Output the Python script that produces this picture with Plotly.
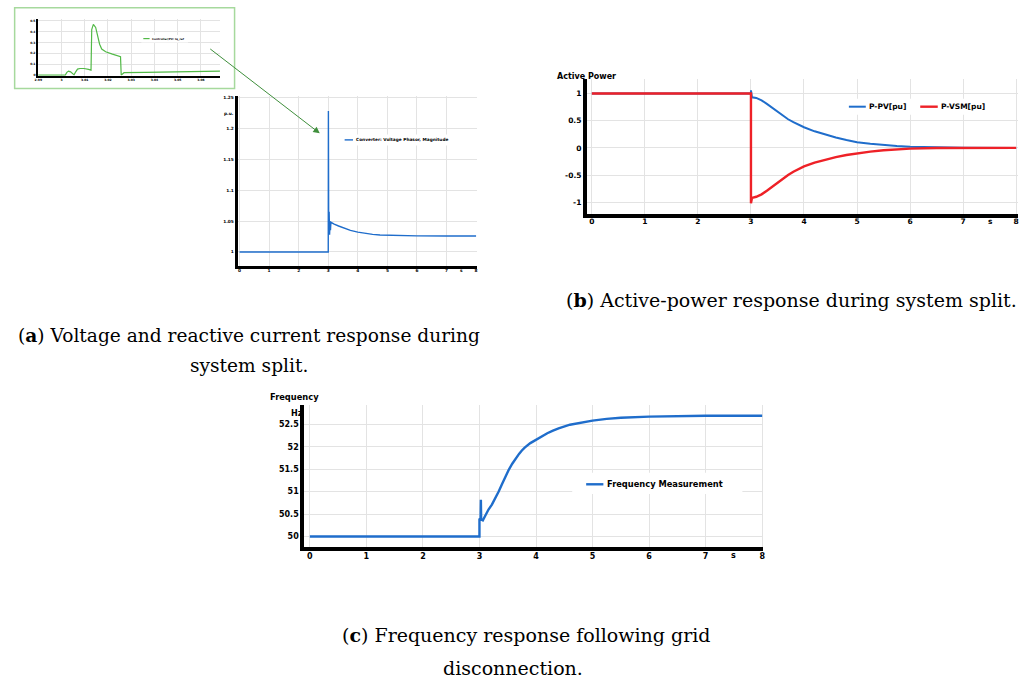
import plotly.graph_objects as go

W, H = 1032, 689


def px(x):
    return x / W


def py(y):
    return 1 - y / H


# ---------------- data ----------------
# inset: reactive current reference of the PV controller (zoom around t = 3 s)
t_iq = [2.99, 3.0, 3.0016, 3.0023, 3.003, 3.0039, 3.0047, 3.0054, 3.0061, 3.0069,
        3.0079, 3.0097, 3.0116, 3.0127, 3.013, 3.0137, 3.0147, 3.0154, 3.0164,
        3.0173, 3.019, 3.0219, 3.0254, 3.0257, 3.0269, 3.0361, 3.0504, 3.0683]
iq_ref = [0.0, 0.0, 0.0, 0.025, 0.037, 0.03, 0.012, 0.002, 0.03, 0.055,
          0.061, 0.061, 0.052, 0.046, 0.42, 0.468, 0.44, 0.377, 0.285,
          0.24, 0.215, 0.193, 0.169, 0.0, 0.022, 0.025, 0.03, 0.036]

# (a) converter voltage magnitude [p.u.]
t_v = [0, 3.0, 3.005, 3.015, 3.03, 3.045, 3.06, 3.075, 3.09, 3.12, 3.2, 3.35,
       3.5, 3.75, 4.0, 4.25, 4.5, 4.75, 5.0, 5.5, 6.0, 7.0, 8.0]
v_mag = [1.0, 1.0, 1.228, 1.03, 1.065, 1.028, 1.05, 1.035, 1.048, 1.047, 1.045, 1.042,
         1.039, 1.035, 1.032, 1.030, 1.0285, 1.0275, 1.027, 1.0263, 1.026, 1.0258, 1.0258]

# (b) active power [pu]
t_p = [0, 3.0, 3.0, 3.02, 3.1, 3.2, 3.3, 3.4, 3.5, 3.6, 3.7, 3.8, 3.9, 4.0,
       4.2, 4.4, 4.6, 4.8, 5.0, 5.25, 5.5, 5.75, 6.0, 6.5, 7.0, 8.0]
p_pv = [1.0, 1.0, 1.06, 0.93, 0.92, 0.875, 0.81, 0.735, 0.66, 0.59, 0.527, 0.472, 0.423, 0.38,
        0.305, 0.242, 0.19, 0.145, 0.105, 0.074, 0.05, 0.034, 0.022, 0.008, 0.003, 0.0]
p_vsm = [1.0, 1.0, -1.02, -0.92, -0.9, -0.855, -0.79, -0.715, -0.64, -0.565, -0.5, -0.44, -0.385, -0.34,
         -0.27, -0.215, -0.17, -0.132, -0.1, -0.068, -0.043, -0.025, -0.013, -0.003, 0.0, 0.0]

# (c) measured frequency [Hz]
t_f = [0, 3.0, 3.0, 3.02, 3.025, 3.03, 3.06, 3.11, 3.16, 3.22, 3.28, 3.34, 3.4, 3.46,
       3.52, 3.58, 3.64, 3.7, 3.75, 3.8, 3.9, 4.0, 4.1, 4.2, 4.3, 4.4, 4.6, 4.8, 5.0, 5.25, 5.5,
       6.0, 6.5, 7.0, 8.0]
freq = [50.0, 50.0, 50.38, 50.4, 50.82, 50.38, 50.36, 50.49, 50.6, 50.71, 50.85, 51.0, 51.17, 51.34,
        51.49, 51.62, 51.74, 51.84, 51.915, 51.98, 52.08, 52.16, 52.235, 52.3, 52.36, 52.41, 52.49,
        52.54, 52.58, 52.62, 52.645, 52.67, 52.68, 52.69, 52.69]

# tick labels
iq_xticks = [2.99, 3.0, 3.01, 3.02, 3.03, 3.04, 3.05, 3.06]
iq_xtext = ["2.99", "3", "3.01", "3.02", "3.03", "3.04", "3.05", "3.06"]
iq_yticks = [0, 0.1, 0.2, 0.3, 0.4, 0.5]
iq_ytext = ["0", "0.1", "0.2", "0.3", "0.4", "0.5"]
v_yticks = [1.0, 1.05, 1.1, 1.15, 1.2, 1.25]
v_ytext = ["1", "1.05", "1.1", "1.15", "1.2", "1.25"]
p_yticks = [-1, -0.5, 0, 0.5, 1]
p_ytext = ["-1", "-0.5", "0", "0.5", "1"]
f_yticks = [50, 50.5, 51, 51.5, 52, 52.5]
f_ytext = ["50", "50.5", "51", "51.5", "52", "52.5"]
sec_ticks = [0, 1, 2, 3, 4, 5, 6, 7, 8]
sec_text = [str(s) for s in sec_ticks]

BLUE = "#1f6dcb"
RED = "#ee2127"
GREEN = "#52b947"
GRID = "#e3e3e3"
SANS = "DejaVu Sans"
SERIF = "DejaVu Serif"

fig = go.Figure()

fig.add_trace(go.Scatter(x=t_iq, y=iq_ref, xaxis="x", yaxis="y", mode="lines",
                         line=dict(color=GREEN, width=1.2), showlegend=False))
fig.add_trace(go.Scatter(x=t_v, y=v_mag, xaxis="x2", yaxis="y2", mode="lines",
                         line=dict(color=BLUE, width=1.4), showlegend=False))
fig.add_trace(go.Scatter(x=t_p, y=p_pv, xaxis="x3", yaxis="y3", mode="lines",
                         line=dict(color=BLUE, width=2), showlegend=False))
fig.add_trace(go.Scatter(x=t_p, y=p_vsm, xaxis="x3", yaxis="y3", mode="lines",
                         line=dict(color=RED, width=2.4), showlegend=False))
fig.add_trace(go.Scatter(x=t_f, y=freq, xaxis="x4", yaxis="y4", mode="lines",
                         line=dict(color=BLUE, width=2.4), showlegend=False))


def xax(dom, rng, vals, text, size, lw, anchor, standoff):
    return dict(domain=[px(dom[0]), px(dom[1])], range=rng, tickmode="array",
                tickvals=vals, ticktext=text, showgrid=True, gridcolor=GRID, gridwidth=1,
                zeroline=False, showline=True, linecolor="black", linewidth=lw,
                ticks="", anchor=anchor, ticklabelstandoff=standoff,
                tickfont=dict(family=SANS, size=size, color="black", weight="bold"))


def yax(dom, rng, vals, text, size, lw, anchor):
    return dict(domain=[py(dom[1]), py(dom[0])], range=rng, tickmode="array",
                tickvals=vals, ticktext=text, showgrid=True, gridcolor=GRID, gridwidth=1,
                zeroline=False, showline=True, linecolor="black", linewidth=lw,
                ticks="", anchor=anchor,
                tickfont=dict(family=SANS, size=size, color="black", weight="bold"))


fig.update_layout(
    width=W, height=H, margin=dict(l=0, r=0, t=0, b=0),
    paper_bgcolor="white", plot_bgcolor="white",
    xaxis=xax((35, 218), [2.9898, 3.0682], iq_xticks, iq_xtext, 3, 1.5, "y", 0),
    yaxis=yax((17.7, 75), [-0.0064, 0.521], iq_yticks, iq_ytext, 3, 1.5, "x"),
    xaxis2=xax((235.7, 476), [-0.067, 8.02], sec_ticks, sec_text, 4.3, 2.7, "y2", -2),
    yaxis2=yax((95, 265.7), [0.9774, 1.2527], v_yticks, v_ytext, 4.3, 2.7, "x2"),
    xaxis3=xax((586.7, 1020), [-0.094, 8.036], sec_ticks, sec_text, 7.5, 3.8, "y3", -3),
    yaxis3=yax((78, 214), [-1.224, 1.272], p_yticks, p_ytext, 7.5, 3.8, "x3"),
    xaxis4=xax((302.7, 764), [-0.099, 8.02], sec_ticks, sec_text, 8, 3.8, "y4", -2),
    yaxis4=yax((405, 548), [49.756, 52.933], f_yticks, f_ytext, 8, 3.8, "x4"),
)

shapes = []
annotations = []


def rect(x0, y0, x1, y1, line=None, fill="white", layer="above"):
    shapes.append(dict(type="rect", xref="paper", yref="paper",
                       x0=px(x0), x1=px(x1), y0=py(y1), y1=py(y0),
                       fillcolor=fill, line=line or dict(width=0), layer=layer))


def swatch(x0, x1, y, color, width):
    shapes.append(dict(type="line", xref="paper", yref="paper",
                       x0=px(x0), x1=px(x1), y0=py(y), y1=py(y),
                       line=dict(color=color, width=width)))


def label(x, y, text, size, xanchor="left", family=SANS, bold=True):
    annotations.append(dict(xref="paper", yref="paper", x=px(x), y=py(y), text=text,
                            showarrow=False, xanchor=xanchor, yanchor="middle",
                            font=dict(family=family, size=size, color="black",
                                      weight="bold" if bold else "normal")))


# inset frame
rect(11.7, 6.7, 232.7, 87.7, line=dict(color="#a6d99d", width=1.5), fill="rgba(0,0,0,0)")

# legends
rect(139, 34, 186, 41.5)
swatch(141, 147.3, 37.7, GREEN, 1.2)
label(147.5, 37.7, "Controller/PV: Iq_ref", 2.8)

rect(340, 134, 450, 145)
swatch(343.3, 351.7, 139.3, BLUE, 1.4)
label(352.5, 139.3, "Converter: Voltage Phasor, Magnitude", 4.3)

rect(845, 98, 992, 114)
swatch(850, 867, 106, BLUE, 2)
label(868, 106, "P-PV[pu]", 7.5)
swatch(921.7, 939.3, 106, RED, 2.4)
label(940.3, 106, "P-VSM[pu]", 7.5)

rect(572, 473, 743, 494.5)
swatch(586, 603.3, 484.7, BLUE, 2.4)
label(605, 484.7, "Frequency Measurement", 8.3)

# axis titles and unit labels
label(209, 76.7, "s", 3, xanchor="center")
label(227.5, 112.7, "p.u.", 4.3, xanchor="center")
label(460.7, 270.2, "s", 4.3, xanchor="center")
label(554.5, 75.7, "Active Power", 8)
label(992.3, 221, "s", 7.5, xanchor="center")
label(266, 397.3, "Frequency", 8.3)
label(295, 414, "Hz", 8, xanchor="center")
label(734, 556.3, "s", 8, xanchor="center")

# connector from the inset to the voltage spike
annotations.append(dict(xref="paper", yref="paper", x=px(318.3), y=py(132.7),
                        ax=-111, ay=-85.5, axref="pixel", ayref="pixel", text="",
                        showarrow=True, arrowhead=2, arrowsize=1.3, arrowwidth=1,
                        arrowcolor="#3f8f3c"))

# captions
label(247.5, 335, "(<b>a</b>) Voltage and reactive current response during", 18.6,
      xanchor="center", family=SERIF, bold=False)
label(246.7, 366, "system split.", 18.6, xanchor="center", family=SERIF, bold=False)
label(792.5, 300, "(<b>b</b>) Active-power response during system split.", 19,
      xanchor="center", family=SERIF, bold=False)
label(526, 636, "(<b>c</b>) Frequency response following grid", 19,
      xanchor="center", family=SERIF, bold=False)
label(512, 669, "disconnection.", 19, xanchor="center", family=SERIF, bold=False)

fig.update_layout(shapes=shapes, annotations=annotations)
fig.write_html("out.html")
